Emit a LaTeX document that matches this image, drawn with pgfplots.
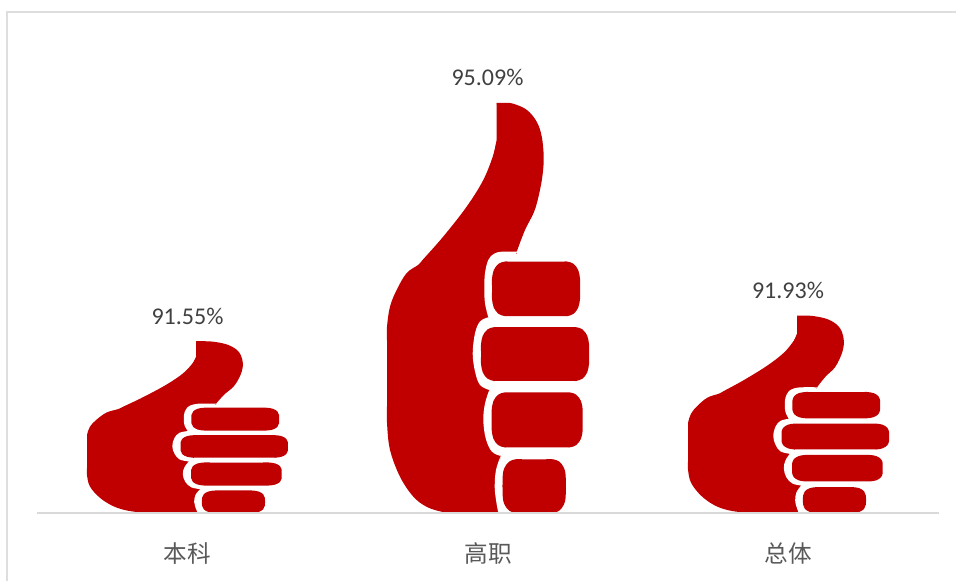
\documentclass[border=0pt]{standalone}
\usepackage{pgfplots}
\usepackage{pgfplotstable}
\usepackage{fontspec}
\pgfplotsset{compat=1.18}
\setmainfont{Carlito}
\newfontfamily\cjk{Noto Sans CJK SC}
\definecolor{barred}{HTML}{C00000}
\definecolor{frameg}{HTML}{DEDEDE}
\definecolor{axg}{HTML}{D9D9D9}
\definecolor{valt}{HTML}{404040}
\definecolor{catt}{HTML}{595959}
% x = pixels from the left of the thumb, h = share of the bar height
\pgfplotstableread{
x h
109.7 .91
109.7 1.0
135 .8
129.7 .637
129.7 0
65 0
60 .3
}\bodycore
\pgfplotstableread{
x h
109.7 1.0
118 1.0
126 .998
139.7 .983
149.7 .954
154.7 .918
156.7 .869
155.6 .825
152.3 .78
147.2 .735
138 .690
129.7 .637
}\bodytip
\pgfplotstableread{
x h
65 0
54.7 .003
39.7 .015
26.3 .040
13 .0885
3 .154
0 .22
0 .26
0 .30
0 .38
0 .42
0 .454
3 .503
9.7 .544
19.7 .585
31.3 .605
36 .618
56.3 .674
79.7 .747
96.3 .812
106.3 .873
109.7 .91
}\bodyleft
\pgfplotstableread{
x h
220 .637
110 .63
100 .55
101.3 .477
95 .39
102.3 .300
100 .22
113.7 .139
110 .07
111.3 0
220 0
}\gapcore
\pgfplotstableread{
x h
130 .637
114.7 .637
107 .632
101.3 .617
98 .585
97.3 .548
98 .511
101.3 .477
}\gapA
\pgfplotstableread{
x h
101.3 .477
93 .467
88 .438
85.7 .389
88 .345
93 .312
102.3 .300
}\gapB
\pgfplotstableread{
x h
102.3 .300
98 .267
96.3 .227
98.7 .182
104.7 .150
113.7 .139
}\gapC
\pgfplotstableread{
x h
113.7 .139
109 .105
107.7 .064
109 .032
111.3 0
}\gapD
\pgfplotstableread{
x h
118 .613
111.5 .6074
106.74 .592
105 .571
105 .555
105 .538
105 .522
106.74 .501
111.5 .4856
118 .480
125 .480
173 .480
180 .480
186.5 .4856
191.26 .501
193 .522
193 .538
193 .555
193 .571
191.26 .592
186.5 .6074
180 .613
173 .613
125 .613
}\fingerA
\pgfplotstableread{
x h
107 .453
100.5 .4474
95.74 .432
94 .411
94 .395
94 .380
94 .364
95.74 .343
100.5 .3276
107 .322
114 .322
182 .322
189 .322
195.5 .3276
200.26 .343
202 .364
202 .380
202 .395
202 .411
200.26 .432
195.5 .4474
189 .453
182 .453
114 .453
}\fingerB
\pgfplotstableread{
x h
117.7 .294
111.2 .2884
106.44 .273
104.7 .252
104.7 .236
104.7 .218
104.7 .202
106.44 .181
111.2 .1656
117.7 .160
124.7 .160
175.7 .160
182.7 .160
189.2 .1656
193.96 .181
195.7 .202
195.7 .218
195.7 .236
195.7 .252
193.96 .273
189.2 .2884
182.7 .294
175.7 .294
124.7 .294
}\fingerC
\pgfplotstableread{
x h
128.7 .131
122.2 .1254
117.44 .11
115.7 .089
115.7 .042
117.44 .021
122.2 .0056
128.7 0
135.7 0
158.7 0
165.7 0
172.2 .0056
176.96 .021
178.7 .042
178.7 .089
176.96 .11
172.2 .1254
165.7 .131
158.7 .131
135.7 .131
}\fingerD
\newcommand\piece[5]{%
  \addplot[fill=#1,draw=none,#2] table[x expr=\thisrow{x}*#5+#3,y expr=89+\thisrow{h}*(#4-89)]}
\newcommand\thumb[3]{%
  \piece{barred}{}{#1}{#2}{#3}{\bodycore};
  \piece{barred}{smooth,tension=.6}{#1}{#2}{#3}{\bodytip};
  \piece{barred}{smooth,tension=.6}{#1}{#2}{#3}{\bodyleft};
  \piece{white}{}{#1}{#2}{#3}{\gapcore};
  \piece{white}{smooth,tension=.6}{#1}{#2}{#3}{\gapA};
  \piece{white}{smooth,tension=.6}{#1}{#2}{#3}{\gapB};
  \piece{white}{smooth,tension=.6}{#1}{#2}{#3}{\gapC};
  \piece{white}{smooth,tension=.6}{#1}{#2}{#3}{\gapD};
  \piece{barred}{smooth cycle,tension=.6}{#1}{#2}{#3}{\fingerA};
  \piece{barred}{smooth cycle,tension=.6}{#1}{#2}{#3}{\fingerB};
  \piece{barred}{smooth cycle,tension=.6}{#1}{#2}{#3}{\fingerC};
  \piece{barred}{smooth cycle,tension=.6}{#1}{#2}{#3}{\fingerD};
}
\begin{document}
\begin{tikzpicture}
\useasboundingbox (0,0) rectangle (717pt,435.75pt);
\draw[frameg,line width=1.5pt] (5.6pt,-1pt) -- (5.6pt,426.4pt) -- (718pt,426.4pt);
\begin{axis}[
  at={(27.75pt,51pt)},anchor=south west,
  scale only axis,width=676.5pt,height=353.6pt,
  xmin=37,xmax=939,ymin=89,ymax=96,
  clip=false,axis on top,
  axis y line=none,
  axis x line*=bottom,
  axis line style={axg,line width=1.2pt,-},
  xtick={187,488,788},
  xticklabels={本科,高职,总体},
  major tick length=0pt,
  xticklabel style={font=\cjk\fontsize{17.7pt}{20pt}\selectfont,text=catt,anchor=center,yshift=-30.2pt},
]
\thumb{87}{91.55}{.995}
\thumb{387}{95.09}{1}
\thumb{688}{91.93}{.995}
\addplot[draw=none,mark=none,
  nodes near coords,point meta=explicit symbolic,
  nodes near coords style={font=\fontsize{18pt}{20pt}\selectfont,text=valt,anchor=center,yshift=18.7pt}]
  table[meta=t]{
x y t
187.5 91.55 91.55\%
487.5 95.09 95.09\%
788 91.93 91.93\%
};
\end{axis}
\end{tikzpicture}
\end{document}
